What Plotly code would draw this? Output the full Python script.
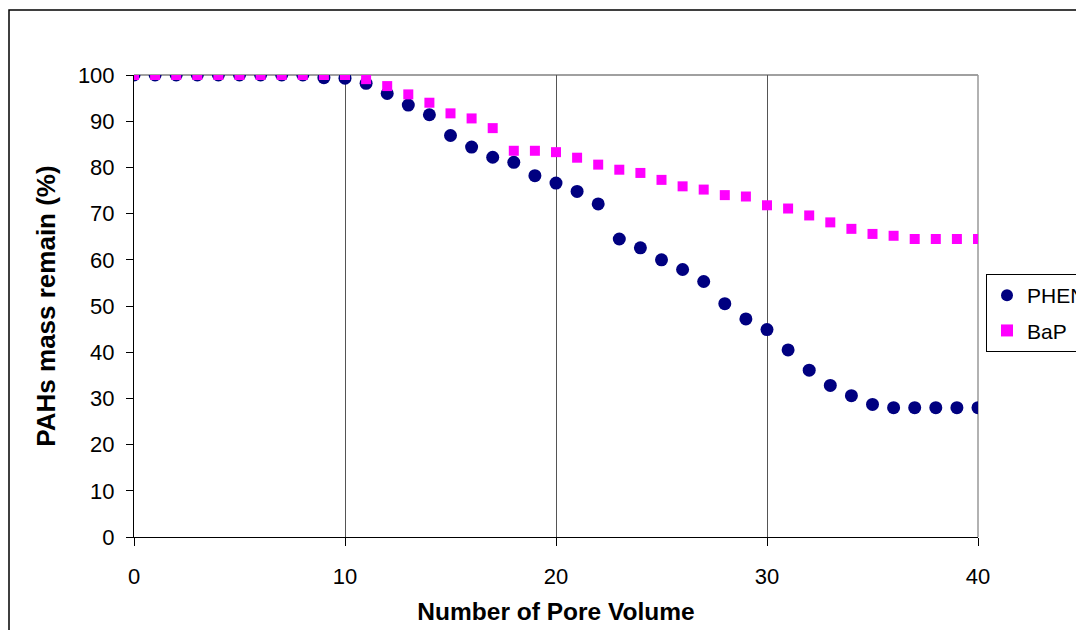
import plotly.graph_objects as go

pore_volume = list(range(0, 41))
phen = [100, 100, 100, 100, 100, 100, 100, 100, 100, 99.4, 99.3,
        98.2, 96.0, 93.5, 91.4, 86.9, 84.4, 82.2, 81.1, 78.2, 76.6,
        74.8, 72.1, 64.5, 62.6, 60.0, 57.9, 55.3, 50.5, 47.2, 44.9,
        40.5, 36.1, 32.8, 30.6, 28.7, 28.0, 28.0, 28.0, 28.0, 28.0]
bap = [100, 100, 100, 100, 100, 100, 100, 100, 100, 100, 100,
       99.1, 97.6, 95.8, 94.0, 91.7, 90.6, 88.5, 83.6, 83.6, 83.3,
       82.1, 80.6, 79.5, 78.8, 77.3, 75.9, 75.2, 74.0, 73.7, 71.8,
       71.1, 69.6, 68.1, 66.7, 65.6, 65.2, 64.5, 64.5, 64.5, 64.5]
x_ticks = [0, 10, 20, 30, 40]
y_ticks = list(range(0, 101, 10))

FONT = "Liberation Sans, Arial, sans-serif"

fig = go.Figure()
fig.add_trace(go.Scatter(
    x=pore_volume, y=phen, mode="markers", name="PHEN", legendgroup="a",
    marker=dict(symbol="circle", size=13, color="#000080", line=dict(width=0)),
))
fig.add_trace(go.Scatter(
    x=pore_volume, y=bap, mode="markers", name="BaP", legendgroup="b",
    marker=dict(symbol="square", size=10, color="#FF00FF", line=dict(width=0)),
))

L, R, T, B = 134, 978, 75, 537
W, H = 1076, 630
pw, ph = R - L, B - T

fig.update_layout(
    width=W, height=H,
    margin=dict(l=L, r=W - R, t=T, b=H - B, pad=0, autoexpand=False),
    paper_bgcolor="white", plot_bgcolor="white",
    font=dict(family=FONT, size=22, color="black"),
    showlegend=True,
    legend=dict(
        xref="container", yref="container",
        x=986 / W, y=1 - 274 / H, xanchor="left", yanchor="top",
        bordercolor="black", borderwidth=1, bgcolor="white",
        font=dict(family=FONT, size=21, color="black"),
        itemsizing="constant", tracegroupgap=5,
    ),
    xaxis=dict(
        range=[0, 40], tickvals=x_ticks, ticks="outside", ticklen=8,
        tickcolor="black", showline=True, linecolor="black", linewidth=1,
        showgrid=True, gridcolor="#555555", gridwidth=1, zeroline=False,
        tickfont=dict(family=FONT, size=22), ticklabelstandoff=12,
        title=dict(text="<b>Number of Pore Volume</b>", font=dict(family=FONT, size=24.5), standoff=14),
    ),
    yaxis=dict(
        range=[0, 100], tickvals=y_ticks, ticks="outside", ticklen=7,
        tickcolor="black", showline=True, linecolor="black", linewidth=1,
        showgrid=False, zeroline=False,
        tickfont=dict(family=FONT, size=22), ticklabelstandoff=7,
        title=dict(text="<b>PAHs mass remain (%)</b>", font=dict(family=FONT, size=26), standoff=14),
    ),
    shapes=[
        dict(type="line", xref="paper", yref="paper", x0=0, x1=1, y0=1, y1=1,
             line=dict(color="#808080", width=1.5), layer="below"),
        dict(type="line", xref="paper", yref="paper", x0=1, x1=1, y0=0, y1=1,
             line=dict(color="#999999", width=1.5), layer="below"),
        dict(type="rect", xref="paper", yref="paper",
             x0=(9 - L) / pw, x1=(1100 - L) / pw, y0=(B - 660) / ph, y1=(B - 10) / ph,
             line=dict(color="black", width=1.5), fillcolor="rgba(0,0,0,0)", layer="below"),
    ],
)

fig.write_html("out.html")
